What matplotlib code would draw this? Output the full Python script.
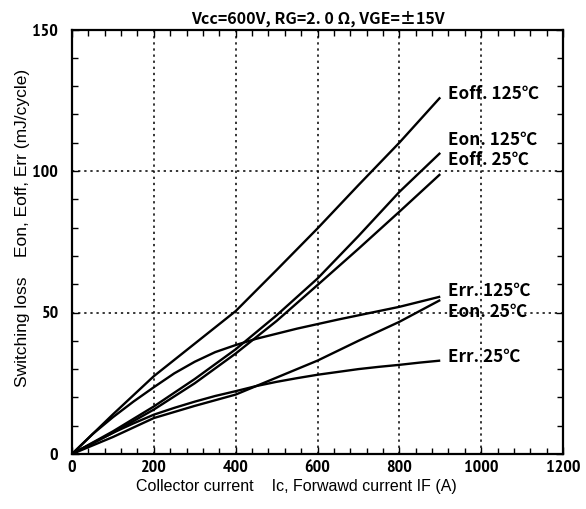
import matplotlib
matplotlib.use("Agg")
import matplotlib.pyplot as plt
from matplotlib.ticker import MultipleLocator
from matplotlib import font_manager as fm

# Data
current = [0, 100, 200, 300, 400, 500, 600, 700, 800, 900]
eoff_125 = [0, 14.0, 27.5, 39.0, 50.5, 65.0, 79.7, 95.0, 110.0, 126.0]
eon_125 = [0, 8.0, 16.8, 26.5, 37.0, 49.0, 62.0, 77.0, 92.6, 106.4]
eoff_25 = [0, 7.5, 15.7, 25.0, 35.5, 47.0, 59.7, 72.5, 85.6, 98.9]
eon_25 = [0, 6.0, 12.7, 17.0, 21.0, 27.0, 33.0, 40.0, 46.7, 54.4]

current_err = [0, 50, 100, 150, 200, 250, 300, 350, 400, 450,
               500, 550, 600, 650, 700, 750, 800, 850, 900]
err_125 = [0, 7.0, 13.0, 18.5, 23.6, 28.5, 32.6, 36.0, 38.5, 40.7,
           42.5, 44.3, 45.9, 47.5, 49.0, 50.5, 52.0, 53.8, 55.6]
err_25 = [0, 3.8, 7.5, 10.8, 13.9, 16.3, 18.5, 20.5, 22.2, 24.0,
          25.5, 26.8, 28.0, 29.0, 30.0, 30.8, 31.5, 32.3, 33.0]

curves = [(current, eoff_125), (current, eon_125), (current, eoff_25),
          (current_err, err_125), (current, eon_25), (current_err, err_25)]
labels = ["Eoff. 125℃", "Eon. 125℃", "Eoff. 25℃", "Err. 125℃", "Eon. 25℃", "Err. 25℃"]
label_y = [127.4, 111, 104, 57.7, 50.2, 34.3]

x_ticks = [0, 200, 400, 600, 800, 1000, 1200]
y_ticks = [0, 50, 100, 150]
title = "Vcc=600V, RG=2. 0 Ω, VGE=±15V"
xlabel = "Collector current    Ic, Forwawd current IF (A)"
ylabel = "Switching loss    Eon, Eoff, Err (mJ/cycle)"

cjk = ["Noto Sans CJK JP", "DejaVu Sans"]
plain = ["Liberation Sans", "DejaVu Sans"]


def find_narrow():
    prefs = []
    for f in fm.fontManager.ttflist:
        fn = f.fname.lower()
        if "italic" in fn or "oblique" in fn:
            continue
        narrow = "narrow" in fn
        cond = ("condensed" in fn or
                str(f.stretch) in ("condensed", "semi-condensed", "extra-condensed"))
        if not (narrow or cond):
            continue
        bold = ("bold" in fn) or (str(f.weight) in ("bold", "700"))
        semi = "semi" in fn or "extra" in fn
        prefs.append((0 if narrow else 1, 0 if bold else 1, 1 if semi else 0, f.fname))
    prefs.sort()
    if not prefs:
        return None, None
    return prefs[0][3], ("narrow" if prefs[0][0] == 0 else "cond")


font_path, font_kind = find_narrow()


def tick_fp():
    if font_kind == "narrow":
        return fm.FontProperties(fname=font_path, size=13)
    if font_kind == "cond":
        return fm.FontProperties(fname=font_path, size=10.5)
    return fm.FontProperties(family=cjk, weight="bold", size=10)


fig = plt.figure(figsize=(5.86, 5.09), dpi=100)
ax = fig.add_axes([72 / 586, 1 - 454 / 509, (563 - 72) / 586, (454 - 29.5) / 509])

for xs, ys in curves:
    ax.plot(xs, ys, color="black", lw=1.7, solid_capstyle="butt")

for lab, ly in zip(labels, label_y):
    ax.text(918, ly, lab, family=cjk, fontweight="bold", fontsize=12.3,
            va="center", ha="left")

ax.set_xlim(0, 1200)
ax.set_ylim(0, 150)
ax.set_xticks(x_ticks)
ax.set_yticks(y_ticks)
ax.xaxis.set_minor_locator(MultipleLocator(40))
ax.yaxis.set_minor_locator(MultipleLocator(10))
ax.tick_params(which="both", direction="in", top=True, right=True, width=1.0)
ax.tick_params(which="major", length=5)
ax.tick_params(which="minor", length=4)
for lbl in ax.get_xticklabels() + ax.get_yticklabels():
    lbl.set_fontproperties(tick_fp())
ax.tick_params(axis="x", pad=4)
ax.tick_params(axis="y", pad=10)

for sp in ax.spines.values():
    sp.set_linewidth(1.6)

ax.grid(True, which="major", color="black", linestyle=(0, (1.5, 2.5)), linewidth=1.1)

ax.set_title(title, family=cjk, fontweight="bold", fontsize=11.5, pad=4)
ax.set_xlabel(xlabel, family=plain, fontsize=11.5, va="center")
ax.xaxis.set_label_coords((296 - 72) / 491, (454 - 487) / 424.5)
ax.set_ylabel(ylabel, family=plain, fontsize=12.5, va="center")
ax.yaxis.set_label_coords((23 - 72) / 491, (454 - 228) / 424.5)

fig.savefig("out.png", dpi=100)
